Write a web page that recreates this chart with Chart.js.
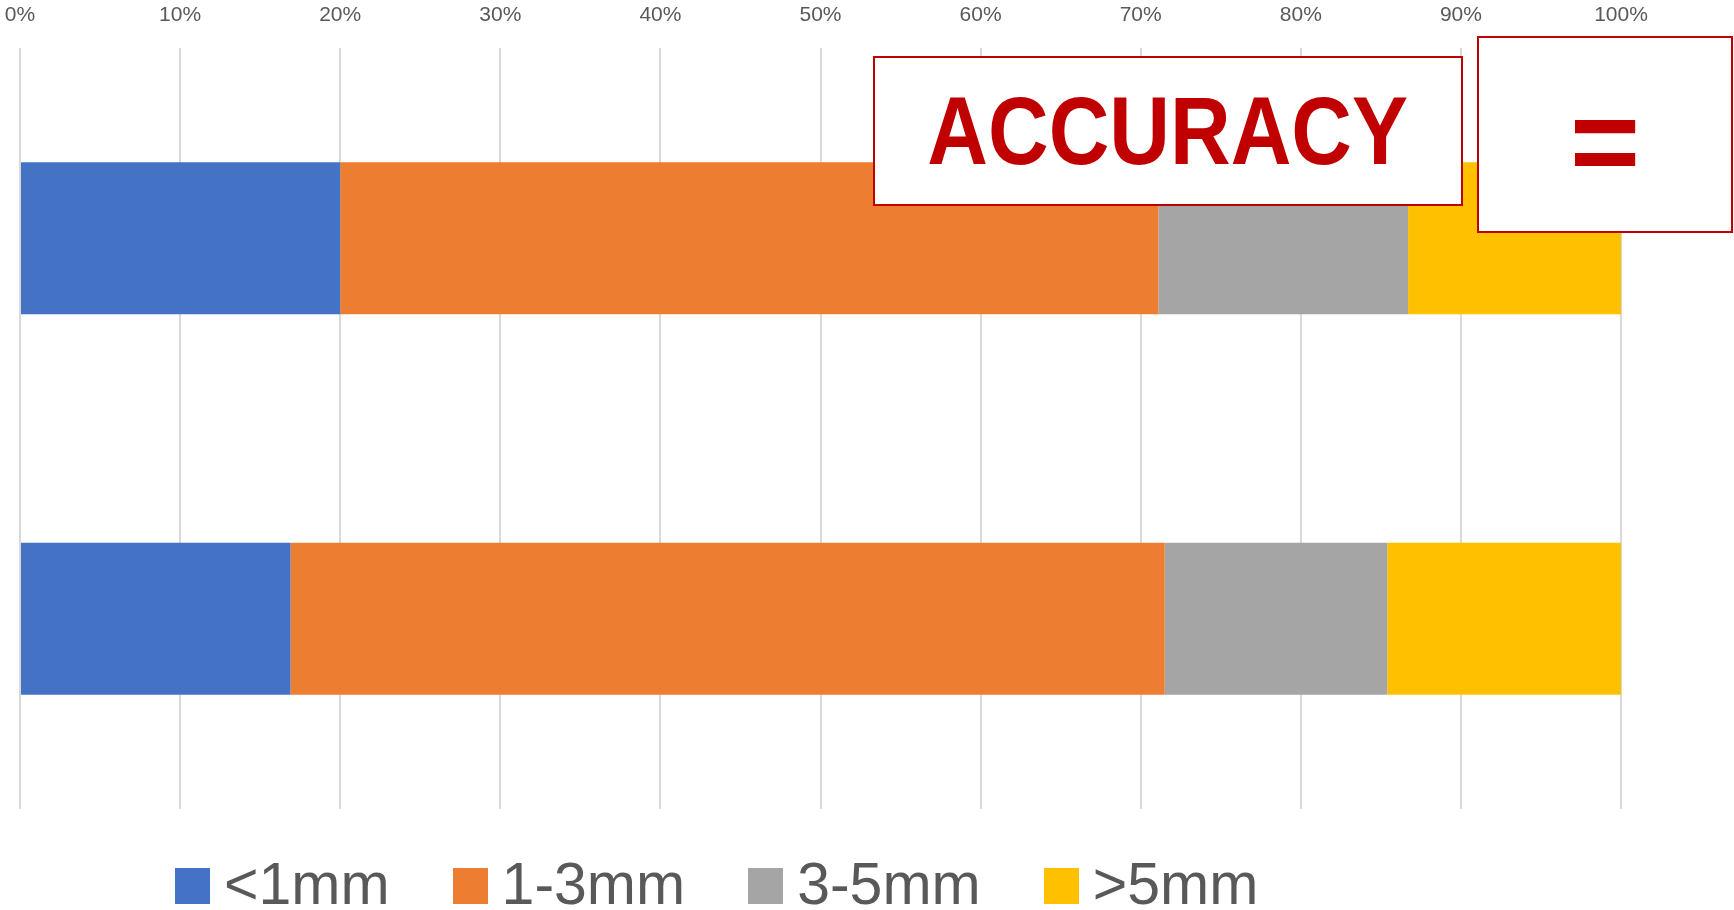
<!DOCTYPE html>
<html>
<head>
<meta charset="utf-8">
<script src="https://cdn.jsdelivr.net/npm/chart.js@4.4.1/dist/chart.umd.min.js"></script>
<style>
  html, body { margin: 0; padding: 0; background: #ffffff; overflow: hidden; }
  #wrap { position: relative; width: 1734px; height: 910px; }
  #chart { position: absolute; left: 0; top: 0; }
  .callout {
    position: absolute; box-sizing: border-box; background: #ffffff;
    border: 2px solid #C00000; color: #C00000;
    display: flex; align-items: center; justify-content: center;
    font-family: "Liberation Sans", Arial, sans-serif;
    font-weight: bold; white-space: nowrap;
  }
  #accuracy { left: 873px; top: 56px; width: 590px; height: 150px; font-size: 96px; }
  #accuracy span { display: inline-block; transform: scaleX(0.875); }
  #equals { left: 1477px; top: 36px; width: 256px; height: 197px; font-size: 120px; padding-top: 12px; }
  #legend {
    position: absolute; left: 175px; top: 855px; white-space: nowrap;
    font-family: "Liberation Sans", Arial, sans-serif; font-size: 59px; line-height: 58px; color: #595959;
  }
  #legend .item { display: inline-block; margin-right: 63px; }
  #legend .sw { display: inline-block; width: 35px; height: 36px; margin-right: 14px; vertical-align: baseline; }
</style>
</head>
<body>
<div id="wrap">
  <canvas id="chart" width="1734" height="910"></canvas>
  <div id="legend"></div>
  <div class="callout" id="accuracy"><span>ACCURACY</span></div>
  <div class="callout" id="equals">=</div>
</div>
<script>
// Share of measurements in each error band (percent of each row)
const categories = ['Row 1', 'Row 2'];
const seriesNames = ['<1mm', '1-3mm', '3-5mm', '>5mm'];
const under1mm = [20.0, 16.9];
const from1to3mm = [51.1, 54.6];
const from3to5mm = [15.6, 13.9];
const over5mm = [13.3, 14.6];
const tickLabels = ['0%', '10%', '20%', '30%', '40%', '50%', '60%', '70%', '80%', '90%', '100%'];

const seriesColors = ['#4472C4', '#ED7D31', '#A5A5A5', '#FFC000'];
const seriesValues = [under1mm, from1to3mm, from3to5mm, over5mm];

const datasets = seriesNames.map((name, i) => ({
  label: name,
  data: seriesValues[i],
  backgroundColor: seriesColors[i],
  borderWidth: 0,
  categoryPercentage: 0.8,
  barPercentage: 0.5
}));

new Chart(document.getElementById('chart'), {
  type: 'bar',
  data: { labels: categories, datasets: datasets },
  options: {
    indexAxis: 'y',
    responsive: false,
    animation: false,
    devicePixelRatio: 1,
    layout: { padding: { left: 20, right: 113, top: 3, bottom: 101 } },
    plugins: { legend: { display: false }, tooltip: { enabled: false } },
    scales: {
      x: {
        position: 'top',
        stacked: true,
        min: 0,
        max: 100,
        afterFit: (scale) => {
          scale.height = 45;
          scale.paddingLeft = 0;
          scale.paddingRight = 0;
        },
        ticks: {
          stepSize: 10,
          padding: 20,
          color: '#595959',
          font: { family: '"Liberation Sans", Arial, sans-serif', size: 21 },
          callback: (v, i) => tickLabels[i]
        },
        grid: { color: '#D9D9D9', lineWidth: 2, drawTicks: false },
        border: { display: false }
      },
      y: {
        stacked: true,
        display: false
      }
    }
  }
});

// Legend row built from the series names and colours
const legend = document.getElementById('legend');
seriesNames.forEach((name, i) => {
  const item = document.createElement('span');
  item.className = 'item';
  const sw = document.createElement('span');
  sw.className = 'sw';
  sw.style.background = seriesColors[i];
  item.appendChild(sw);
  item.appendChild(document.createTextNode(name));
  legend.appendChild(item);
});
</script>
</body>
</html>
